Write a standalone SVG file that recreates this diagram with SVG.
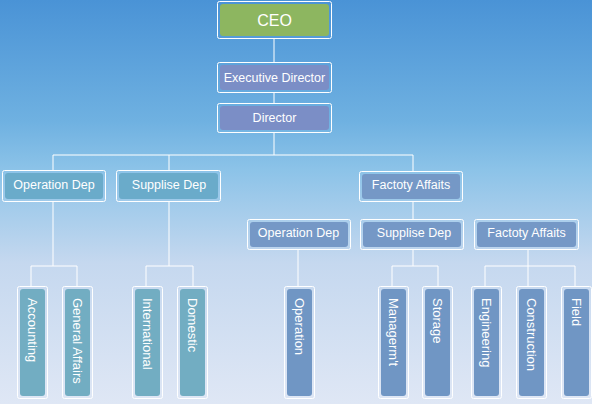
<svg xmlns="http://www.w3.org/2000/svg" width="592" height="404" viewBox="0 0 592 404">
<defs>
<linearGradient id="bg" x1="0" y1="0" x2="0" y2="1">
<stop offset="0" stop-color="#4a93d6"/>
<stop offset="0.3" stop-color="#6fb1e1"/>
<stop offset="0.42" stop-color="#8cc3e8"/>
<stop offset="0.65" stop-color="#c5d8ef"/>
<stop offset="1" stop-color="#dfe7f5"/>
</linearGradient>
</defs>
<style>
.frame{fill:none;stroke:#ffffff;stroke-width:1;}
.ceo{fill:#8db660;}
.exec{fill:#7b8ec6;}
.dl{fill:#6aabca;}
.dr{fill:#7598c6;}
.ll{fill:#72adc2;}
.lr{fill:#7096c4;}
text{font-family:"Liberation Sans",Arial,sans-serif;fill:#ffffff;font-size:12.5px;text-anchor:middle;dominant-baseline:central;}
.big{font-size:16px;}
.v{text-anchor:start;font-size:13px;}
.conn line{stroke:#ffffff;stroke-width:1;}
</style>
<rect x="0" y="0" width="592" height="404" fill="url(#bg)"/>
<g class="conn" id="connectors">
<line x1="274" y1="38" x2="274" y2="62"/>
<line x1="274" y1="92" x2="274" y2="103"/>
<line x1="274" y1="132" x2="274" y2="155"/>
<line x1="53" y1="155" x2="413" y2="155"/>
<line x1="53" y1="155" x2="53" y2="170"/>
<line x1="169" y1="155" x2="169" y2="170"/>
<line x1="413" y1="155" x2="413" y2="171"/>
<line x1="413" y1="201" x2="413" y2="219"/>
<line x1="53" y1="201" x2="53" y2="266"/>
<line x1="31" y1="266" x2="77" y2="266"/>
<line x1="31" y1="266" x2="31" y2="286"/>
<line x1="77" y1="266" x2="77" y2="286"/>
<line x1="169" y1="201" x2="169" y2="266"/>
<line x1="146" y1="266" x2="193" y2="266"/>
<line x1="146" y1="266" x2="146" y2="286"/>
<line x1="193" y1="266" x2="193" y2="286"/>
<line x1="298" y1="249" x2="298" y2="286"/>
<line x1="413" y1="249" x2="413" y2="266"/>
<line x1="392" y1="266" x2="438" y2="266"/>
<line x1="392" y1="266" x2="392" y2="286"/>
<line x1="438" y1="266" x2="438" y2="286"/>
<line x1="528" y1="249" x2="528" y2="286"/>
<line x1="485" y1="266" x2="575" y2="266"/>
<line x1="485" y1="266" x2="485" y2="286"/>
<line x1="575" y1="266" x2="575" y2="286"/>
</g>
<g id="ceo">
<rect class="frame" x="217.5" y="1.5" width="114" height="37" rx="2"/>
<rect class="ceo" x="220" y="4" width="109" height="32" rx="3"/>
<text class="big" x="274.5" y="20">CEO</text>
</g>
<g id="executive-director">
<rect class="frame" x="217.5" y="62.5" width="114" height="30" rx="2"/>
<rect class="exec" x="220" y="65" width="109" height="25" rx="3"/>
<text x="274.5" y="78">Executive Director</text>
</g>
<g id="director">
<rect class="frame" x="217.5" y="103.5" width="114" height="29" rx="2"/>
<rect class="exec" x="220" y="106" width="109" height="24" rx="3"/>
<text x="274.5" y="118">Director</text>
</g>
<g id="operation-dep-1">
<rect class="frame" x="2.5" y="170.5" width="103" height="31" rx="2"/>
<rect class="dl" x="5" y="173" width="98" height="26" rx="3"/>
<text x="54" y="185">Operation Dep</text>
</g>
<g id="supplise-dep-1">
<rect class="frame" x="116.5" y="170.5" width="104" height="31" rx="2"/>
<rect class="dl" x="119" y="173" width="99" height="26" rx="3"/>
<text x="169" y="185">Supplise Dep</text>
</g>
<g id="factoty-affaits-1">
<rect class="frame" x="359.5" y="171.5" width="103" height="30" rx="2"/>
<rect class="dr" x="362" y="174" width="98" height="25" rx="3"/>
<text x="411" y="185">Factoty Affaits</text>
</g>
<g id="operation-dep-2">
<rect class="frame" x="247.5" y="219.5" width="103" height="30" rx="2"/>
<rect class="dr" x="250" y="222" width="98" height="25" rx="3"/>
<text x="298.5" y="233">Operation Dep</text>
</g>
<g id="supplise-dep-2">
<rect class="frame" x="360.5" y="219.5" width="103" height="30" rx="2"/>
<rect class="dr" x="363" y="222" width="98" height="25" rx="3"/>
<text x="414" y="233">Supplise Dep</text>
</g>
<g id="factoty-affaits-2">
<rect class="frame" x="474.5" y="219.5" width="104" height="30" rx="2"/>
<rect class="dr" x="477" y="222" width="99" height="25" rx="3"/>
<text x="526.5" y="233">Factoty Affaits</text>
</g>
<g id="accounting">
<rect class="frame" x="17.5" y="286.5" width="30" height="112" rx="2"/>
<rect class="ll" x="20" y="289" width="25" height="107" rx="3"/>
<text class="v" transform="translate(32.5 298) rotate(90)">Accounting</text>
</g>
<g id="general-affairs">
<rect class="frame" x="62.5" y="286.5" width="30" height="112" rx="2"/>
<rect class="ll" x="65" y="289" width="25" height="107" rx="3"/>
<text class="v" transform="translate(77.5 298) rotate(90)">General Affairs</text>
</g>
<g id="international">
<rect class="frame" x="132.5" y="286.5" width="30" height="112" rx="2"/>
<rect class="ll" x="135" y="289" width="25" height="107" rx="3"/>
<text class="v" transform="translate(147.5 298) rotate(90)">International</text>
</g>
<g id="domestic">
<rect class="frame" x="177.5" y="286.5" width="30" height="112" rx="2"/>
<rect class="ll" x="180" y="289" width="25" height="107" rx="3"/>
<text class="v" transform="translate(192.5 298) rotate(90)">Domestic</text>
</g>
<g id="operation">
<rect class="frame" x="284.5" y="286.5" width="30" height="112" rx="2"/>
<rect class="lr" x="287" y="289" width="25" height="107" rx="3"/>
<text class="v" transform="translate(299.5 298) rotate(90)">Operation</text>
</g>
<g id="managemt">
<rect class="frame" x="378.5" y="286.5" width="30" height="112" rx="2"/>
<rect class="lr" x="381" y="289" width="25" height="107" rx="3"/>
<text class="v" transform="translate(393.5 298) rotate(90)">Managerm't</text>
</g>
<g id="storage">
<rect class="frame" x="422.5" y="286.5" width="30" height="112" rx="2"/>
<rect class="lr" x="425" y="289" width="25" height="107" rx="3"/>
<text class="v" transform="translate(437.5 298) rotate(90)">Storage</text>
</g>
<g id="engineering">
<rect class="frame" x="471.5" y="286.5" width="30" height="112" rx="2"/>
<rect class="lr" x="474" y="289" width="25" height="107" rx="3"/>
<text class="v" transform="translate(486.5 298) rotate(90)">Engineering</text>
</g>
<g id="construction">
<rect class="frame" x="516.5" y="286.5" width="30" height="112" rx="2"/>
<rect class="lr" x="519" y="289" width="25" height="107" rx="3"/>
<text class="v" transform="translate(531.5 298) rotate(90)">Construction</text>
</g>
<g id="field">
<rect class="frame" x="561.5" y="286.5" width="30" height="112" rx="2"/>
<rect class="lr" x="564" y="289" width="25" height="107" rx="3"/>
<text class="v" transform="translate(576.5 298) rotate(90)">Field</text>
</g>
</svg>
